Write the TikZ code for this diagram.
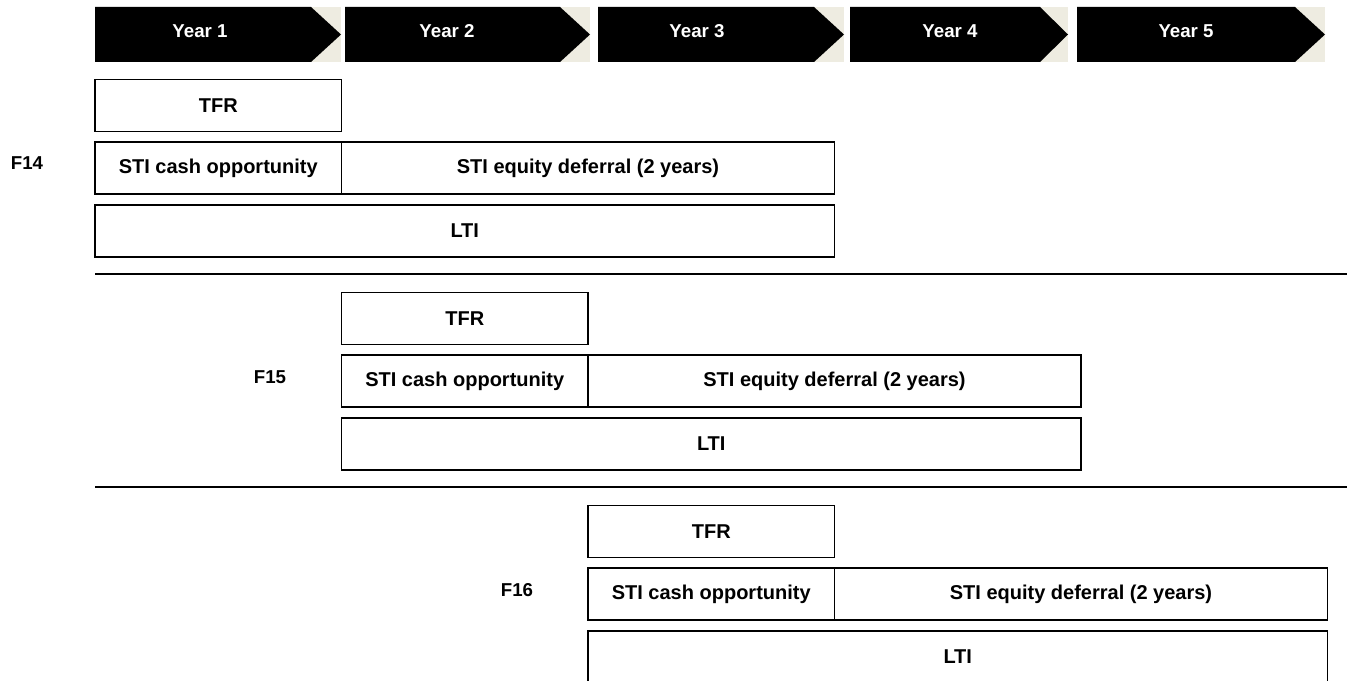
\documentclass[tikz,border=0pt]{standalone}
\usepackage{fontspec}
\setmainfont{Liberation Sans}
\usepackage{xcolor}
\usepackage{tikz}
\usetikzlibrary{positioning}
\definecolor{notchtan}{HTML}{EEECE1}

\begin{document}
\begin{tikzpicture}[
    x=0.75pt, y=-0.75pt,
    bx/.style={draw, line width=1.2pt, minimum height=39pt, inner sep=0pt,
               font=\bfseries\fontsize{15}{18}\selectfont},
    yr/.style={text=white, font=\bfseries\fontsize{14}{17}\selectfont},
    fl/.style={font=\bfseries\fontsize{14}{17}\selectfont},
    sep/.style={line width=1.5pt},
]
    \useasboundingbox (0,0) rectangle (1347,681);

    % Year chevrons
    \fill[notchtan] (95,7) rectangle (341,62);
    \fill (95,7) -- (311,7) -- (341,34.5) -- (311,62) -- (95,62) -- cycle;
    \node[yr] (yr1) at (200,31) {Year 1};
    \fill[notchtan] (345,7) rectangle (590,62);
    \fill (345,7) -- (560,7) -- (590,34.5) -- (560,62) -- (345,62) -- cycle;
    \node[yr] (yr2) at (447,31) {Year 2};
    \fill[notchtan] (598,7) rectangle (844,62);
    \fill (598,7) -- (814,7) -- (844,34.5) -- (814,62) -- (598,62) -- cycle;
    \node[yr] (yr3) at (697,31) {Year 3};
    \fill[notchtan] (850,7) rectangle (1068,62);
    \fill (850,7) -- (1040,7) -- (1068,34.5) -- (1040,62) -- (850,62) -- cycle;
    \node[yr] (yr4) at (950,31) {Year 4};
    \fill[notchtan] (1077,7) rectangle (1325,62);
    \fill (1077,7) -- (1295,7) -- (1325,34.5) -- (1295,62) -- (1077,62) -- cycle;
    \node[yr] (yr5) at (1186,31) {Year 5};

    % F14
    \node[bx, minimum width=184.9pt] (tfrA) at (218.25,105.5) {TFR};
    \node[bx, minimum width=184.9pt] (cashA) at (218.25,168) {STI cash opportunity};
    \node[bx, minimum width=369.75pt] (defA) at (588,168) {STI equity deferral (2 years)};
    \node[bx, minimum width=554.6pt] (ltiA) at (464.75,231) {LTI};
    \node[fl] (fA) at (27,163.5) {F14};
    \draw[sep] (95,274) -- (1347,274);

    % F15
    \node[bx, minimum width=184.9pt] (tfrB) at (464.75,318.5) {TFR};
    \node[bx, minimum width=184.9pt] (cashB) at (464.75,381) {STI cash opportunity};
    \node[bx, minimum width=369.75pt] (defB) at (834.5,381) {STI equity deferral (2 years)};
    \node[bx, minimum width=554.6pt] (ltiB) at (711.25,444) {LTI};
    \node[fl] (fB) at (270,377) {F15};
    \draw[sep] (95,487) -- (1347,487);

    % F16
    \node[bx, minimum width=184.9pt] (tfrC) at (711.25,531.5) {TFR};
    \node[bx, minimum width=184.9pt] (cashC) at (711.25,594) {STI cash opportunity};
    \node[bx, minimum width=369.75pt] (defC) at (1081,594) {STI equity deferral (2 years)};
    \node[bx, minimum width=554.6pt] (ltiC) at (957.75,657) {LTI};
    \node[fl] (fC) at (517,590) {F16};
\end{tikzpicture}
\end{document}
